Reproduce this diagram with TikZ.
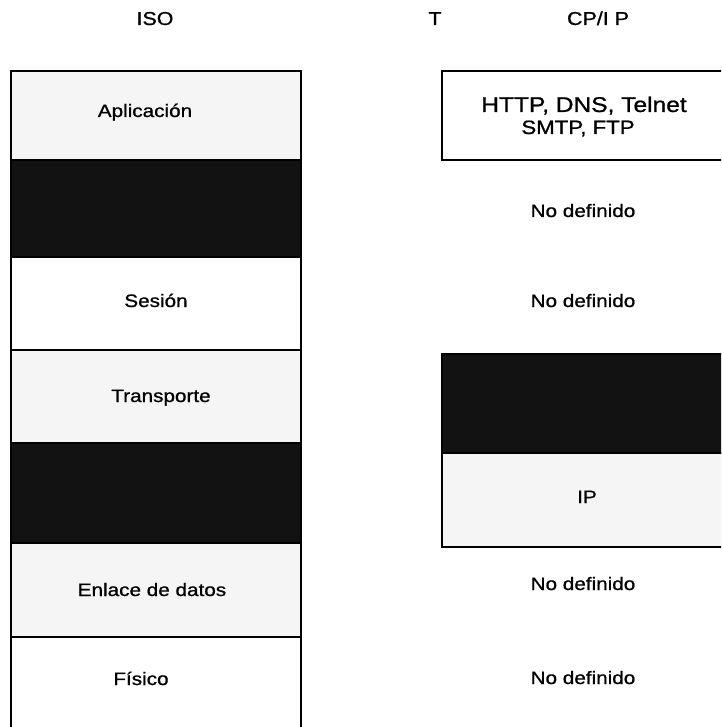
\documentclass[tikz,border=0pt]{standalone}
\usepackage{fontspec}
\setmainfont{Liberation Sans}[FakeStretch=1.15,FakeBold=0.9]
\begin{document}
\begin{tikzpicture}[x=0.75pt,y=0.75pt,yscale=-1,xscale=1,
	layerbox/.style={draw=black,line width=1.2pt},
	lightbox/.style={layerbox,fill=black!4},
	darkbox/.style={layerbox,fill=black!93},
	layertxt/.style={anchor=base,inner sep=0pt,font=\fontsize{13.5}{16}\selectfont},
	headtxt/.style={anchor=base,inner sep=0pt,font=\fontsize{14}{17}\selectfont}]
	\useasboundingbox (0,0) rectangle (721,727);
	\clip (0,0) rectangle (721,727);
	
	%Shape: ISO column
	\draw [lightbox] (11,71) rectangle (301,160);
	\draw [darkbox] (11,160) rectangle (301,257);
	\draw [layerbox,fill=white] (11,257) rectangle (301,350);
	\draw [lightbox] (11,350) rectangle (301,443);
	\draw [darkbox] (11,443) rectangle (301,543);
	\draw [lightbox] (11,543) rectangle (301,637);
	\draw [layerbox,fill=white] (11,637) rectangle (301,745);
	
	%Shape: TCP/IP column
	\draw [layerbox,fill=white] (442,71) rectangle (740,160);
	\draw [darkbox] (442,354) rectangle (740,453);
	\draw [lightbox] (442,453) rectangle (740,547);
	
	% Text Node
	\draw (155,25) node [headtxt] (isohead) {ISO};
	% Text Node
	\draw (435,25) node [headtxt] (thead) {T};
	% Text Node
	\draw (598,25) node [headtxt] (tcphead) {CP/I P};
	
	% Text Node
	\draw (145,117) node [layertxt] (aplic) {Aplicación};
	% Text Node
	\draw (156,307) node [layertxt] (sesion) {Sesión};
	% Text Node
	\draw (161,402) node [layertxt] (transp) {Transporte};
	% Text Node
	\draw (152,596) node [layertxt] (enlace) {Enlace de datos};
	% Text Node
	\draw (141,685) node [layertxt] (fisico) {Físico};
	
	% Text Node
	\draw (584,112) node [layertxt,font=\fontsize{16}{19}\selectfont] (http) {HTTP, DNS, Telnet};
	% Text Node
	\draw (578,134) node [layertxt,font=\fontsize{14.5}{17}\selectfont] (smtp) {SMTP, FTP};
	% Text Node
	\draw (583,217) node [layertxt] (nodef1) {No definido};
	% Text Node
	\draw (583,307) node [layertxt] (nodef2) {No definido};
	% Text Node
	\draw (587,503) node [layertxt] (ip) {IP};
	% Text Node
	\draw (583,590) node [layertxt] (nodef3) {No definido};
	% Text Node
	\draw (583,684) node [layertxt] (nodef4) {No definido};
	
\end{tikzpicture}
\end{document}
